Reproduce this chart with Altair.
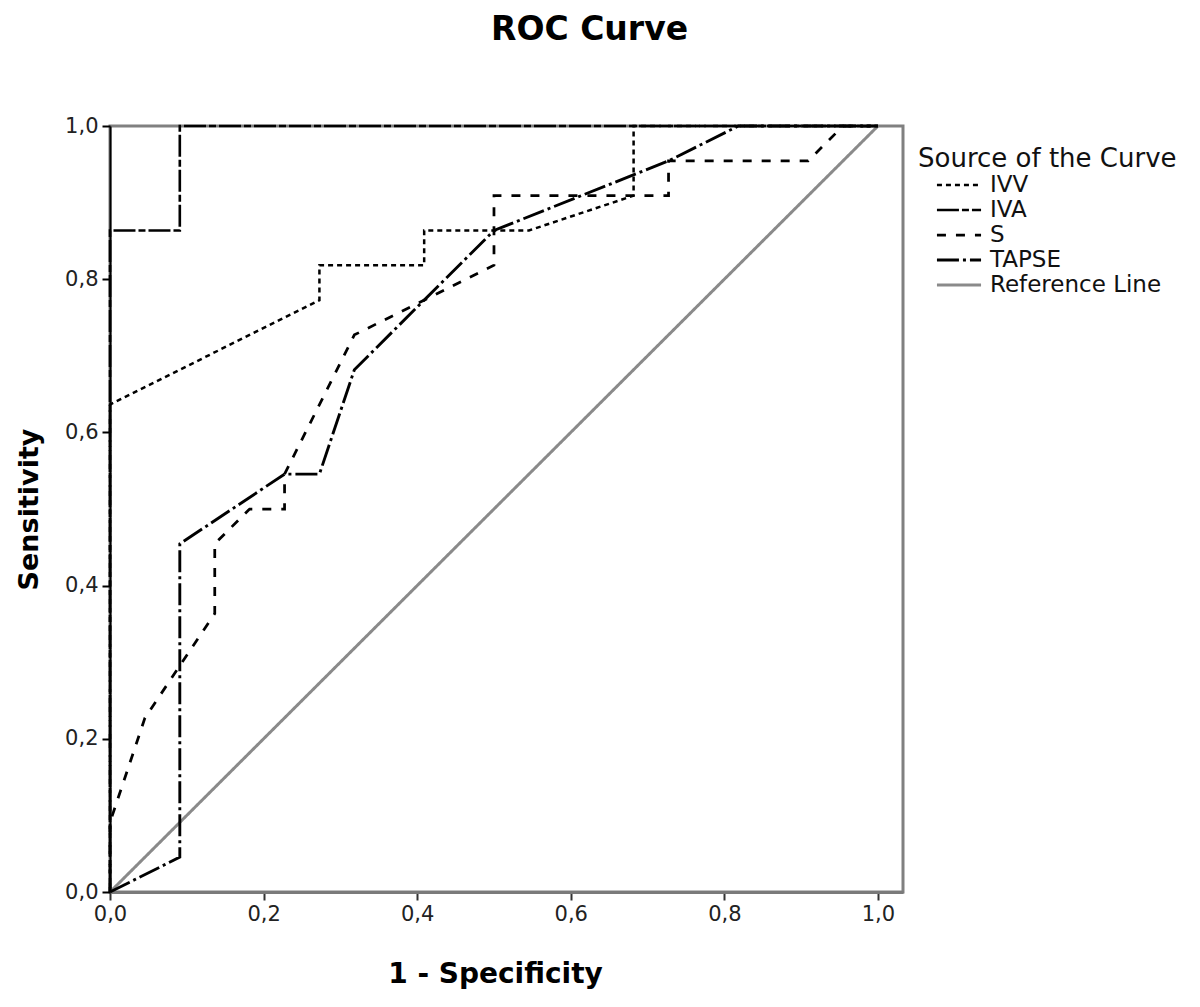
import altair as alt
import pandas as pd

series_names = ["IVV", "IVA", "S", "TAPSE", "Reference Line"]

ivv_fpr = [0, 0, 0.2727, 0.2727, 0.4091, 0.4091, 0.5455, 0.6818, 0.6818, 1.0]
ivv_tpr = [0, 0.6364, 0.7727, 0.8182, 0.8182, 0.8636, 0.8636, 0.9091, 1.0, 1.0]

iva_fpr = [0, 0, 0.0909, 0.0909, 1.0]
iva_tpr = [0, 0.8636, 0.8636, 1.0, 1.0]

s_fpr = [0, 0, 0.0455, 0.1364, 0.1364, 0.1818, 0.2273, 0.2273, 0.3182, 0.5, 0.5,
         0.7273, 0.7273, 0.9091, 0.9545, 1.0]
s_tpr = [0, 0.0909, 0.2273, 0.3636, 0.4545, 0.5, 0.5, 0.5455, 0.7273, 0.8182, 0.9091,
         0.9091, 0.9545, 0.9545, 1.0, 1.0]

tapse_fpr = [0, 0.0909, 0.0909, 0.2273, 0.2727, 0.3182, 0.4091, 0.5, 0.7273, 0.8182, 1.0]
tapse_tpr = [0, 0.0455, 0.4545, 0.5455, 0.5455, 0.6818, 0.7727, 0.8636, 0.9545, 1.0, 1.0]

ref_fpr = [0, 1]
ref_tpr = [0, 1]

x_ticks = [0, 0.2, 0.4, 0.6, 0.8, 1.0]
y_ticks = [0, 0.2, 0.4, 0.6, 0.8, 1.0]

curves = {
    "Reference Line": (ref_fpr, ref_tpr),
    "IVV": (ivv_fpr, ivv_tpr),
    "IVA": (iva_fpr, iva_tpr),
    "S": (s_fpr, s_tpr),
    "TAPSE": (tapse_fpr, tapse_tpr),
}

rows = []
for name, (xs, ys) in curves.items():
    for i, (a, b) in enumerate(zip(xs, ys)):
        rows.append({"series": name, "fpr": a, "tpr": b, "i": i})
df = pd.DataFrame(rows)

dash_range = [[5, 4], [22, 3, 7, 3], [9, 10], [22, 4, 3, 4], [1, 0]]
color_range = ["#000000", "#000000", "#000000", "#000000", "#8a8a8a"]
width_range = [2.5, 3, 2.5, 2.5, 1.8]

FONT = "DejaVu Sans"
label_expr = "replace(format(datum.value, '.1f'), '.', ',')"

legend = alt.Legend(
    title="Source of the Curve",
    orient="none",
    legendX=808,
    legendY=20,
    symbolType="M-2.1,0H2.1",
    symbolSize=441,
    symbolStrokeWidth=2.5,
    symbolOffset=29,
    labelOffset=19,
    rowPadding=1,
    titleFontSize=26,
    titleFontWeight="normal",
    titleFont=FONT,
    titleColor="#111111",
    titlePadding=1,
    titleLimit=400,
    labelLimit=400,
    labelFontSize=23,
    labelFont=FONT,
    labelColor="#111111",
    padding=0,
)

chart = alt.Chart(df).mark_line().encode(
    x=alt.X(
        "fpr:Q",
        scale=alt.Scale(domain=[0, 1.0326], nice=False, zero=False),
        axis=alt.Axis(
            title="1 - Specificity",
            values=x_ticks,
            labelExpr=label_expr,
            labelFlush=False,
            grid=False,
            domainColor="#7a7a7a",
            domainWidth=3,
            tickColor="#333333",
            tickWidth=2,
            tickSize=8,
            labelFont=FONT,
            labelFontSize=21,
            labelColor="#222222",
            labelPadding=3,
            titleFont=FONT,
            titleFontSize=28,
            titleFontWeight="bold",
            titleColor="#000000",
            titlePadding=36,
            titleX=385,
        ),
    ),
    y=alt.Y(
        "tpr:Q",
        scale=alt.Scale(domain=[0, 1], nice=False),
        axis=alt.Axis(
            title="Sensitivity",
            values=y_ticks,
            labelExpr=label_expr,
            grid=False,
            domainColor="#000000",
            domainWidth=2,
            tickColor="#000000",
            tickWidth=2,
            tickSize=8,
            labelFont=FONT,
            labelFontSize=21,
            labelColor="#222222",
            labelPadding=4,
            titleFont=FONT,
            titleFontSize=27,
            titleFontWeight="bold",
            titleColor="#000000",
            titlePadding=21,
        ),
    ),
    color=alt.Color(
        "series:N",
        scale=alt.Scale(domain=series_names, range=color_range),
        legend=legend,
    ),
    strokeDash=alt.StrokeDash(
        "series:N",
        scale=alt.Scale(domain=series_names, range=dash_range),
        legend=legend,
    ),
    strokeWidth=alt.StrokeWidth(
        "series:N",
        scale=alt.Scale(domain=series_names, range=width_range),
        legend=None,
    ),
    detail="series:N",
    order=alt.Order("i:Q"),
).properties(
    width=793,
    height=766,
    background="white",
    autosize=alt.AutoSizeParams(type="none"),
    padding={"left": 102, "top": 118, "right": 285, "bottom": 100},
    title=alt.TitleParams(
        text="ROC Curve",
        font=FONT,
        fontSize=33,
        fontWeight="bold",
        color="#000000",
        anchor="middle",
        dx=83,
        offset=68,
    ),
).configure_view(
    stroke="#808080",
    strokeWidth=3,
)

chart.save("out.html", embed_options={"renderer": "svg", "actions": False})
